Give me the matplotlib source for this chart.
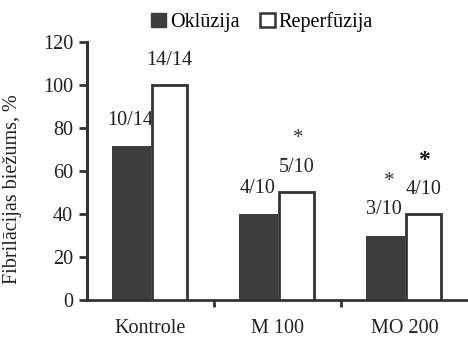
import matplotlib
matplotlib.use("Agg")
import matplotlib.pyplot as plt
from matplotlib.patches import Patch
from matplotlib.ticker import FixedLocator

categories = ["Kontrole", "M 100", "MO 200"]
okluzija = [71.4, 40, 30]
reperfuzija = [100, 50, 40]
okl_labels = ["10/14", "4/10", "3/10"]
rep_labels = ["14/14", "5/10", "4/10"]
yticks = [0, 20, 40, 60, 80, 100, 120]

plt.rcParams['font.family'] = ['Liberation Serif', 'DejaVu Serif']
fs = 14.5
dark = "#3d3d3d"

fig = plt.figure(figsize=(4.68, 3.40), dpi=100)
ax = fig.add_axes([0.186, 0.1176, 0.814, 0.759])

x = list(range(len(categories)))
w = 0.30
xo = [i - w / 2 for i in x]
xr = [i + w / 2 for i in x]

# labels for occlusion drawn below bars so white bar covers overlap
for i in x:
    ax.text(xo[i] - 0.01, okluzija[i] + 12, okl_labels[i], ha="center", va="center",
            fontsize=fs, color="#222222", zorder=1)
ax.bar(xo, okluzija, width=w, color=dark, edgecolor=dark, linewidth=0, zorder=2)
ax.bar(xr, reperfuzija, width=w - 0.02, color="white", edgecolor="#333333",
       linewidth=2.0, zorder=3)
for i in x:
    ax.text(xr[i], reperfuzija[i] + 11.5, rep_labels[i], ha="center", va="center",
            fontsize=fs, color="#222222", zorder=4)

# significance stars
ax.text(xr[1] + 0.01, 75, "*", ha="center", va="center", fontsize=15, color="#333333")
ax.text(xo[2] + 0.03, 55, "*", ha="center", va="center", fontsize=15, color="#333333")
ax.text(xr[2] + 0.0, 65, "*", ha="center", va="center", fontsize=17, fontweight="bold",
        color="#111111")

ax.set_xlim(-0.5, 2.5)
ax.set_ylim(0, 120)
ax.set_yticks(yticks)
ax.set_yticklabels([str(t) for t in yticks], fontsize=fs, color="#222222")
ax.set_xticks(x)
ax.set_xticklabels(categories, fontsize=fs, color="#222222")
ax.tick_params(axis="x", which="major", length=0, pad=14)
ax.xaxis.set_minor_locator(FixedLocator([0.5, 1.5]))
ax.tick_params(axis="x", which="minor", length=5, width=2, direction="out", color="#333333")
ax.tick_params(axis="y", length=6, width=2, direction="out", color="#333333", pad=4)

for s in ["top", "right"]:
    ax.spines[s].set_visible(False)
ax.spines["left"].set_linewidth(2.2)
ax.spines["bottom"].set_linewidth(2.0)
ax.spines["left"].set_color("#333333")
ax.spines["bottom"].set_color("#333333")

ax.set_ylabel("Fibrilācijas biežums, %", fontsize=fs, color="#222222")
ax.yaxis.set_label_coords(-0.172, 0.43)

handles = [Patch(facecolor=dark, edgecolor=dark, label="Oklūzija"),
           Patch(facecolor="white", edgecolor="#333333", linewidth=1.8, label="Reperfūzija")]
fig.legend(handles=handles, loc="center", bbox_to_anchor=(0.56, 0.935), ncol=2,
           frameon=False, fontsize=fs, handlelength=0.75, handleheight=0.75,
           handletextpad=0.2, columnspacing=1.0, borderaxespad=0)

fig.savefig("out.png", dpi=100)
